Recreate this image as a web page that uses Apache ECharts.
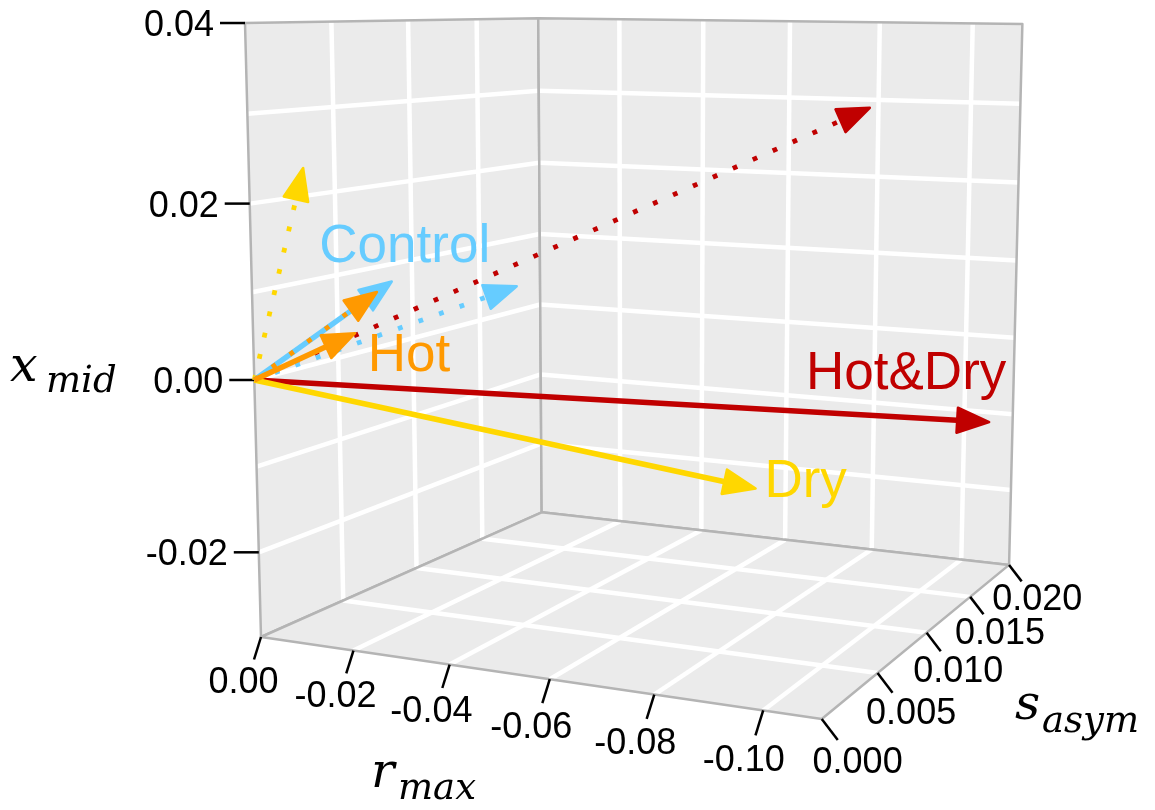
<!DOCTYPE html>
<html>
<head>
<meta charset="utf-8">
<script src="https://cdn.jsdelivr.net/npm/echarts@6/dist/echarts.min.js"></script>
<style>
html,body{margin:0;padding:0;background:#ffffff;}
#chart{width:1155px;height:810px;}
</style>
</head>
<body>
<div id="chart"></div>
<script>
// ---------------- data ----------------
const groups = ['Control', 'Hot', 'Dry', 'Hot&Dry'];
// solid arrows (r_max, s_asym, x_mid)
const solidR = [-0.0157, -0.0110, -0.0711, -0.1070];
const solidS = [0.0040, 0.0030, 0.0120, 0.0190];
const solidZ = [0.0102, 0.0044, -0.0166, -0.0106];
// dotted arrows (r_max, s_asym, x_mid)
const dottedR = [-0.0361, -0.0159, -0.0041, -0.0820];
const dottedS = [0.0060, 0.0030, 0.0020, 0.0180];
const dottedZ = [0.0096, 0.0094, 0.0236, 0.0293];
// axes
const rRange = [-0.1104, 0];
const sRange = [0, 0.02];
const zRange = [-0.03, 0.04];
const rTicks = [0, -0.02, -0.04, -0.06, -0.08, -0.10];
const sTicks = [0, 0.005, 0.010, 0.015, 0.020];
const zTicks = [-0.02, 0, 0.02, 0.04];
const sGrid = [0.005, 0.010, 0.015];
const zGrid = [-0.02, -0.01, 0, 0.01, 0.02, 0.03];

// ---------------- styles ----------------
const COLORS = ['#66CCFF', '#FF9900', '#FFD700', '#C00000'];
const LABEL_OFFSET = [[13, -34], [54, 23], [50, -6], [-83, -48]];
const DRAW_ORDER = [[3, 1], [2, 1], [0, 1], [3, 0], [2, 0], [0, 0], [1, 1], [1, 0]];
const HEAD_LEN = 32, HEAD_HW = 12.5;
const TICK_FONT = '36px "Liberation Sans", Arial, sans-serif';
const LABEL_FONT = '53px "Liberation Sans", Arial, sans-serif';
const MATH_FAMILY = '"DejaVu Serif", serif';

// camera: homogeneous projection of the normalised box (a,b,c in [0,1]) onto the page plane
const CAM = {
  x: [261, 472, 412.3, -25.8],
  y: [637, 4.35, -0.2, -614.9],
  w: [1, -0.108, 0.243, -0.040]
};
function proj(r, s, z) {
  const a = (rRange[1] - r) / (rRange[1] - rRange[0]);
  const b = (s - sRange[0]) / (sRange[1] - sRange[0]);
  const c = (z - zRange[0]) / (zRange[1] - zRange[0]);
  const w = CAM.w[0] + CAM.w[1] * a + CAM.w[2] * b + CAM.w[3] * c;
  const x = (CAM.x[0] + CAM.x[1] * a + CAM.x[2] * b + CAM.x[3] * c) / w;
  const y = (CAM.y[0] + CAM.y[1] * a + CAM.y[2] * b + CAM.y[3] * c) / w;
  return [x, y, w];
}
function scr(api, r, s, z) {
  const p = proj(r, s, z);
  const c = api.coord([p[0], p[1]]);
  return [c[0], c[1], p[2]];
}

const rMin = rRange[0], rMax = rRange[1], sMin = sRange[0], sMax = sRange[1], zMin = zRange[0], zMax = zRange[1];
// walls: left (r = rMax), back (s = sMax), floor (z = zMin)
const WALLS = [
  { corners: [[rMax, sMin, zMin], [rMax, sMax, zMin], [rMax, sMax, zMax], [rMax, sMin, zMax]],
    lines: () => sGrid.map(s => [[rMax, s, zMin], [rMax, s, zMax]]).concat(zGrid.map(z => [[rMax, sMin, z], [rMax, sMax, z]])) },
  { corners: [[rMax, sMax, zMin], [rMin, sMax, zMin], [rMin, sMax, zMax], [rMax, sMax, zMax]],
    lines: () => rTicks.filter(r => r !== 0).map(r => [[r, sMax, zMin], [r, sMax, zMax]]).concat(zGrid.map(z => [[rMax, sMax, z], [rMin, sMax, z]])) },
  { corners: [[rMax, sMin, zMin], [rMin, sMin, zMin], [rMin, sMax, zMin], [rMax, sMax, zMin]],
    lines: () => rTicks.filter(r => r !== 0).map(r => [[r, sMin, zMin], [r, sMax, zMin]]).concat(sGrid.map(s => [[rMax, s, zMin], [rMin, s, zMin]])) }
];

function renderWall(params, api) {
  const wall = WALLS[api.value(0)];
  const pts = wall.corners.map(c => { const p = scr(api, c[0], c[1], c[2]); return [p[0], p[1]]; });
  const children = [{ type: 'polygon', shape: { points: pts }, style: { fill: '#EBEBEB', stroke: null } }];
  wall.lines().forEach(l => {
    const p1 = scr(api, l[0][0], l[0][1], l[0][2]);
    const p2 = scr(api, l[1][0], l[1][1], l[1][2]);
    children.push({ type: 'line', shape: { x1: p1[0], y1: p1[1], x2: p2[0], y2: p2[1] }, style: { stroke: '#FFFFFF', lineWidth: 4.5 } });
  });
  children.push({ type: 'polygon', shape: { points: pts }, style: { fill: null, stroke: '#B4B4B4', lineWidth: 2.5, lineJoin: 'round' } });
  return { type: 'group', children: children };
}

function fmt(v, d) { return (Math.abs(v) < 1e-12 ? 0 : v).toFixed(d); }

function renderTick(params, api) {
  const axis = api.value(0), v = api.value(1);
  let p, t, lab, align = 'center';
  if (axis === 0) {
    p = scr(api, v, sMin, zMin);
    const k = 1 / p[2];
    t = [p[0] - 7 * k, p[1] + 22.5 * k];
    lab = { x: p[0] - 17.5 * k, y: p[1] + 46 * k, text: fmt(v, 2) };
  } else if (axis === 1) {
    p = scr(api, rMin, v, zMin);
    const k = 1 / p[2];
    t = [p[0] + 14.3 * k, p[1] + 18.7 * k];
    lab = { x: p[0] + 32 * k, y: p[1] + 39.5 * k, text: fmt(v, 3) };
  } else {
    p = scr(api, rMax, sMin, v);
    t = [p[0] - 25, p[1]];
    lab = { x: p[0] - 31, y: p[1] + 3, text: fmt(v, 2) };
    align = 'right';
  }
  return { type: 'group', children: [
    { type: 'line', shape: { x1: p[0], y1: p[1], x2: t[0], y2: t[1] }, style: { stroke: '#000', lineWidth: 2.5 } },
    { type: 'text', x: lab.x, y: lab.y, style: { text: lab.text, font: TICK_FONT, fill: '#000', align: align, verticalAlign: 'middle' } }
  ] };
}

function renderArrow(params, api) {
  const r = api.value(0), s = api.value(1), z = api.value(2), g = api.value(3), dotted = api.value(4);
  const o = scr(api, 0, 0, 0), t = scr(api, r, s, z);
  const dx = t[0] - o[0], dy = t[1] - o[1], L = Math.hypot(dx, dy);
  const ux = dx / L, uy = dy / L;
  const bx = t[0] - ux * HEAD_LEN, by = t[1] - uy * HEAD_LEN;
  const col = COLORS[g];
  return { type: 'group', children: [
    { type: 'line', shape: { x1: o[0], y1: o[1], x2: bx + ux * 4, y2: by + uy * 4 },
      style: { stroke: col, lineWidth: dotted ? 4.8 : 5.5, lineDash: dotted ? [4.8, 17] : null, lineCap: 'butt' } },
    { type: 'polygon', shape: { points: [[t[0], t[1]], [bx - uy * HEAD_HW, by + ux * HEAD_HW], [bx + uy * HEAD_HW, by - ux * HEAD_HW]] },
      style: { fill: col, stroke: col, lineWidth: 2.5, lineJoin: 'round' } }
  ] };
}

function renderLabel(params, api) {
  const g = api.value(3);
  const t = scr(api, api.value(0), api.value(1), api.value(2));
  return { type: 'text', x: t[0] + LABEL_OFFSET[g][0], y: t[1] + LABEL_OFFSET[g][1],
    style: { text: groups[g], font: LABEL_FONT, fill: COLORS[g], align: 'center', verticalAlign: 'middle' } };
}

const tickData = []
  .concat(rTicks.map(v => [0, v]))
  .concat(sTicks.map(v => [1, v]))
  .concat(zTicks.map(v => [2, v]));
const arrowData = DRAW_ORDER.map(([g, d]) => d ? [dottedR[g], dottedS[g], dottedZ[g], g, 1] : [solidR[g], solidS[g], solidZ[g], g, 0]);
const labelData = groups.map((name, g) => [solidR[g], solidS[g], solidZ[g], g]);

function mathTitle(main, sub, x, y, xs, ys) {
  return [
    { type: 'text', left: x, top: y, style: { text: main, font: 'italic 49px ' + MATH_FAMILY, fill: '#000' } },
    { type: 'text', left: xs, top: ys, style: { text: sub, font: 'italic 37px ' + MATH_FAMILY, fill: '#000' } }
  ];
}

const chart = echarts.init(document.getElementById('chart'), null, { renderer: 'canvas' });
chart.setOption({
  animation: false,
  backgroundColor: '#ffffff',
  grid: { left: 0, right: 0, top: 0, bottom: 0 },
  xAxis: { type: 'value', min: 0, max: 1155, show: false },
  yAxis: { type: 'value', min: 0, max: 810, inverse: true, show: false },
  graphic: [].concat(
    mathTitle('x', 'mid', 10, 344, 46, 364),
    mathTitle('r', 'max', 371, 750, 398, 771),
    mathTitle('s', 'asym', 1015, 682, 1042, 704)
  ),
  series: [
    { type: 'custom', coordinateSystem: 'cartesian2d', silent: true, z: 1, renderItem: renderWall, data: [[0], [1], [2]] },
    { type: 'custom', coordinateSystem: 'cartesian2d', silent: true, z: 2, renderItem: renderTick, data: tickData },
    { type: 'custom', coordinateSystem: 'cartesian2d', silent: true, z: 3, renderItem: renderArrow, data: arrowData },
    { type: 'custom', coordinateSystem: 'cartesian2d', silent: true, z: 4, renderItem: renderLabel, data: labelData }
  ]
});
</script>
</body>
</html>
